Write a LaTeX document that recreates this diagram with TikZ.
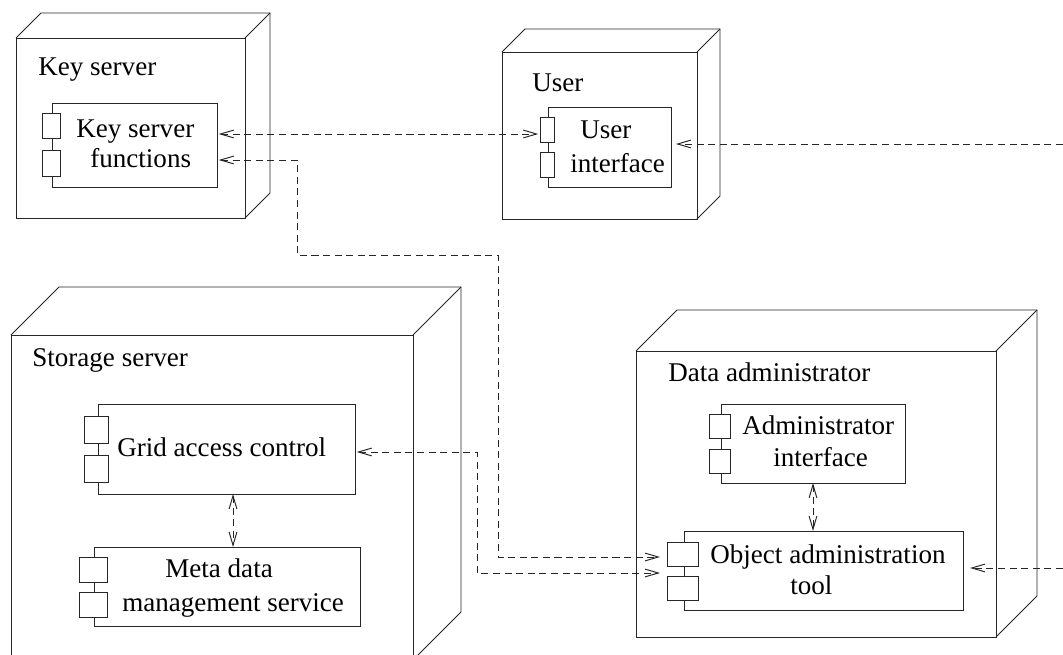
\documentclass[tikz,border=0pt]{standalone}
\usepackage{fontspec}
\setmainfont{Liberation Serif}
\usetikzlibrary{arrows.meta}

% rectangle node given by its corners: style, name, x1, y1, x2, y2
\newcommand\rectnode[6]{%
  \node[#1, minimum width={(#5-#3)*0.02cm}, minimum height={(#6-#4)*0.02cm}]
    (#2) at ({(#3+#5)/2},{(#4+#6)/2}) {};}

% deployment node drawn as a box: name, x1, y1, x2, y2, depth
\newcommand\devicebox[6]{%
  \rectnode{front}{#1}{#2}{#3}{#4}{#5}
  \draw[edge] (#1.north west) -- ++(#6,-#6)
    -- ([shift={(#6,-#6)}]#1.north east)
    -- ([shift={(#6,-#6)}]#1.south east) -- (#1.south east);
  \draw[edge] (#1.north east) -- ++(#6,-#6);}

\tikzset{
  x=0.02cm, y=-0.02cm,
  edge/.style={line width=0.55pt, draw=black!85},
  front/.style={edge, rectangle, inner sep=0pt, outer sep=0pt, fill=white},
  compbox/.style={edge, rectangle, inner sep=0pt, outer sep=0pt},
  port/.style={edge, rectangle, inner sep=0pt, outer sep=0pt, fill=white},
  txt/.style={inner sep=0pt, anchor=base west, font=\fontsize{15.4}{18}\selectfont},
  conn/.style={edge, dash pattern=on 4pt off 2.6pt,
    >={Straight Barb[length=7.5pt,width=4.4pt,line width=0.55pt]}},
}

\begin{document}
\begin{tikzpicture}
\useasboundingbox (0,0) rectangle (1063,655);
\clip (0,0) rectangle (1063,655);

% ---- Key server ----
\devicebox{ks}{16}{38}{245}{218}{25}
\node[txt] (kst) at (38,76) {Key server};
\rectnode{compbox}{kf}{52}{103}{217}{187}
\rectnode{port}{kfa}{42}{113}{60}{138}
\rectnode{port}{kfb}{42}{150}{60}{176}
\node[txt] (kfl1) at (76,138) {Key server};
\node[txt] (kfl2) at (90,168) {functions};

% ---- User ----
\devicebox{us}{502}{52}{697}{219}{23}
\node[txt] (ust) at (532,92) {User};
\rectnode{compbox}{ui}{548}{107}{671}{187}
\rectnode{port}{uia}{540}{117}{554}{142}
\rectnode{port}{uib}{540}{152}{554}{177}
\node[txt] (uil1) at (580,139) {User};
\node[txt] (uil2) at (570,173) {interface};

% ---- Storage server ----
\devicebox{ss}{11}{335}{413}{660}{48}
\node[txt] (sst) at (32,367) {Storage server};
\rectnode{compbox}{gac}{98}{404}{355}{494}
\rectnode{port}{gaca}{84}{416}{108}{443}
\rectnode{port}{gacb}{84}{455}{108}{482}
\node[txt] (gacl) at (117,457) {Grid access control};
\rectnode{compbox}{mdm}{94}{547}{360}{626}
\rectnode{port}{mdma}{79}{557}{107}{582}
\rectnode{port}{mdmb}{79}{592}{107}{617}
\node[txt] (mdml1) at (165,578) {Meta data};
\node[txt] (mdml2) at (122,612) {management service};

% ---- Data administrator ----
\devicebox{da}{636}{351}{996}{637}{41}
\node[txt] (dat) at (668,382) {Data administrator};
\rectnode{compbox}{ai}{721}{404}{905}{483}
\rectnode{port}{aia}{709}{414}{730}{438}
\rectnode{port}{aib}{709}{449}{730}{473}
\node[txt] (ail1) at (742,435) {Administrator};
\node[txt] (ail2) at (773,467) {interface};
\rectnode{compbox}{oat}{684}{531}{963}{610}
\rectnode{port}{oata}{667}{542}{698}{566}
\rectnode{port}{oatb}{667}{576}{698}{600}
\node[txt] (oatl1) at (710,563) {Object administration};
\node[txt] (oatl2) at (790,595) {tool};

% ---- helper levels for the connectors ----
\coordinate (r1) at (0,134);
\coordinate (r2) at (0,160);
\coordinate (r3) at (0,557);
\coordinate (r4) at (0,452);
\coordinate (r5) at (0,573);
\coordinate (c1) at (233,0);
\coordinate (uiin) at (1063,144);
\coordinate (oatin) at (1063,568);

% ---- connectors ----
\draw[conn,<->,shorten <=1pt,shorten >=1pt] (kf.east |- r1) -- (uia.west |- r1);
\draw[conn,->,shorten >=2.8pt] (uiin) -- (ui.east |- uiin);
\draw[conn,<->,shorten <=1pt,shorten >=4pt] (kf.east |- r2) -| (297,255) -| (498,557) -- (oata.west |- r3);
\draw[conn,<->,shorten <=1pt,shorten >=4pt] (gac.east |- r4) -| (477,573) -- (oatb.west |- r5);
\draw[conn,<->] (gac.south -| c1) -- (mdm.north -| c1);
\draw[conn,<->] (ai.south) -- (ai.south |- oat.north);
\draw[conn,->,shorten >=4pt] (oatin) -- (oat.east |- oatin);
\end{tikzpicture}
\end{document}
